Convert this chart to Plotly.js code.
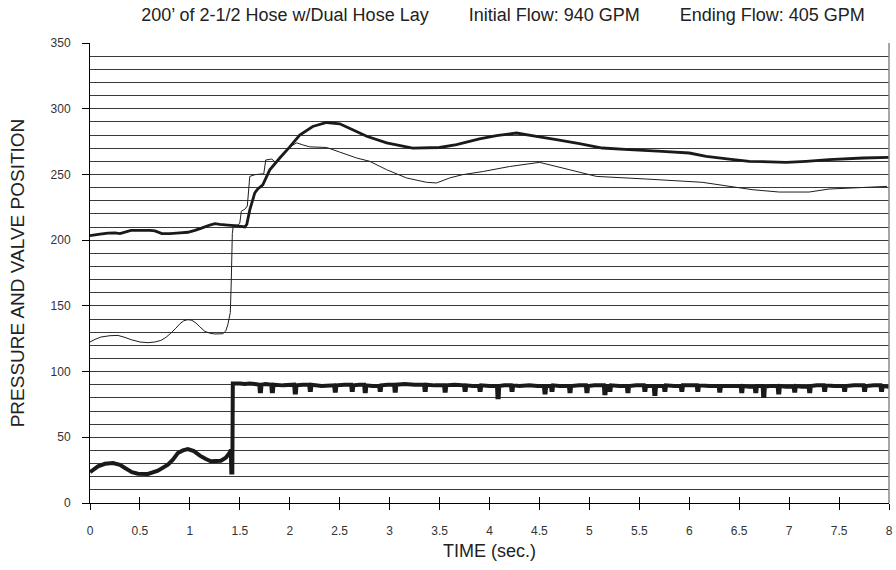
<!DOCTYPE html>
<html>
<head>
<meta charset="utf-8">
<script src="https://cdn.plot.ly/plotly-3.0.1.min.js"></script>
<style>html,body{margin:0;padding:0;background:#fff;}#chart{width:896px;height:570px;}</style>
</head>
<body>
<div id="chart"></div>
<script>
// Upper pressure (thick)
const timeUpper = [0,0.05,0.1,0.18,0.25,0.3,0.41,0.5,0.6,0.65,0.72,0.8,0.9,0.98,1.05,1.11,1.2,1.25,1.3,1.38,1.45,1.51,1.55,1.57,1.6,1.65,1.68,1.73,1.8,1.9,2.0,2.1,2.23,2.37,2.5,2.63,2.77,2.97,3.23,3.5,3.67,3.9,4.07,4.27,4.47,4.67,4.9,5.13,5.4,5.73,6.0,6.17,6.4,6.6,6.97,7.17,7.4,7.74,8.0];
const pressureUpper = [203.5,204,204.5,205.4,205.5,205,207.5,207.5,207.5,207,205,205,205.5,206,207.5,209,211.5,212.5,212,211.5,211,210.5,210,212,223,236,239,242,253.5,262.5,271,280,286.5,289.5,288.5,284,279,274,270,270.5,272.6,277,279.5,281.5,279,276.4,273.4,270.1,268.8,267.5,266.3,263.7,261.7,260,259.2,260,261.2,262.5,263];

// Second pressure (thin)
const timeThin = [0,0.05,0.11,0.2,0.28,0.35,0.41,0.5,0.58,0.65,0.71,0.76,0.81,0.86,0.9,0.94,0.98,1.02,1.06,1.1,1.15,1.2,1.25,1.33,1.36,1.38,1.405,1.415,1.425,1.435,1.48,1.5,1.515,1.55,1.575,1.6,1.65,1.74,1.76,1.82,1.86,1.9,2.0,2.07,2.13,2.2,2.37,2.5,2.67,2.8,2.97,3.17,3.37,3.47,3.6,3.73,3.94,4.2,4.5,4.8,5.07,5.57,6.13,6.63,6.9,7.2,7.4,7.98];
const pressureThin = [122.5,124.5,126.3,127.3,127.5,126,124.3,122.5,122,122.5,123.7,126,129.3,133,136.4,138.7,139.5,139,137,134,130.6,129.2,128.6,128.8,131,135.7,145,170,205,211,211.5,213,222,223.5,226,248.5,249.8,250.5,261,261.7,259,263,271,274,272.5,271,270.5,267,262.5,260,253.6,247.3,244,243.5,247.3,249.8,252.3,256,259.2,253.6,248.5,246.5,244,238.4,236.6,236.6,238.9,240.9];

// Valve position (thick)
const timeValve = [0,0.08,0.15,0.23,0.3,0.35,0.42,0.48,0.58,0.68,0.78,0.83,0.88,0.93,0.98,1.04,1.1,1.16,1.21,1.31,1.36,1.4,1.41,1.415,1.425,1.43,1.44,1.5,1.55,1.6,1.65,
  1.695,1.70,1.712,1.717,1.76,
  1.815,1.82,1.832,1.837,1.93,
  2.045,2.05,2.062,2.067,2.13,
  2.195,2.20,2.212,2.217,2.32,
  2.445,2.45,2.462,2.467,2.55,
  2.615,2.62,2.632,2.637,2.70,
  2.745,2.75,2.762,2.767,2.83,
  2.895,2.90,2.912,2.917,2.98,
  3.045,3.05,3.062,3.067,3.15,3.25,
  3.345,3.35,3.362,3.367,3.45,
  3.545,3.55,3.562,3.567,3.65,
  3.745,3.75,3.762,3.767,3.83,
  3.895,3.90,3.912,3.917,4.00,
  4.075,4.08,4.092,4.097,4.15,
  4.215,4.22,4.232,4.237,4.30,4.40,4.48,
  4.545,4.55,4.562,4.567,
  4.615,4.62,4.632,4.637,4.70,
  4.795,4.80,4.812,4.817,4.90,
  4.965,4.97,4.982,4.987,5.05,
  5.145,5.15,5.162,5.167,
  5.195,5.20,5.212,5.217,5.30,
  5.375,5.38,5.392,5.397,5.47,
  5.545,5.55,5.562,5.567,
  5.645,5.65,5.662,5.667,
  5.745,5.75,5.762,5.767,5.85,
  5.915,5.92,5.932,5.937,6.00,
  6.075,6.08,6.092,6.097,6.20,
  6.295,6.30,6.312,6.317,6.42,
  6.515,6.52,6.532,6.537,6.60,
  6.655,6.66,6.672,6.677,
  6.735,6.74,6.752,6.757,6.80,
  6.885,6.89,6.902,6.907,6.97,
  7.045,7.05,7.062,7.067,7.13,
  7.195,7.20,7.212,7.217,7.28,
  7.345,7.35,7.362,7.367,7.45,
  7.545,7.55,7.562,7.567,7.65,
  7.745,7.75,7.762,7.767,7.85,
  7.915,7.92,7.932,7.937,8.0];
const valvePosition = [23.5,27.9,29.8,30.4,29,26.6,23.5,22.3,22.1,24.6,29.1,33,38,40,41,39.5,36,33.5,31.7,32.2,34.5,38.5,40.5,23.3,23.3,91,91,91,90.5,91,90.5,
  90,85,85,90,90.5,
  90,85,85,90,89.5,
  90,84,84,89.5,90,
  90,86,86,90,89,
  89.5,85.5,85.5,89.5,90,
  90,86,86,89.5,90,
  90,85,85,89.5,89,
  89,86,86,89.5,90,
  90,85.5,85.5,90,90.5,90,
  90,86,86,90,89.5,
  89.5,85.5,85.5,89.5,90,
  89.5,86,86,89.5,89,
  89,86,86,89.5,89,
  89,80.5,80.5,89,89.5,
  89.5,86,86,89.5,89,89.5,89,
  89,84,84,89,
  89,86,86,89.5,89,
  89,85,85,89,89.5,
  89.5,85,85,89,89.5,
  89.5,83.5,83.5,89,
  89,86,86,89.5,89,
  89,85,85,89,89.5,
  89.5,86,86,89,
  89,83,83,89,
  89,86,86,89.5,89,
  89,86,86,89.5,89.5,
  89.5,86,86,89.5,89,
  89,85.5,85.5,89,89,
  89,85,85,89,88.5,
  88.5,85,85,89,
  89,81.5,81.5,88.5,89,
  89,84,84,89,88.5,
  88.5,85.5,85.5,89,88.5,
  88.5,85,85,89,89.5,
  89.5,86,86,89.5,89,
  89,86,86,89,89.5,
  89.5,86,86,89,89.5,
  89.5,86,86,89,88.5];

const yTicks = [0,50,100,150,200,250,300,350];
const xTicks = [0,0.5,1,1.5,2,2.5,3,3.5,4,4.5,5,5.5,6,6.5,7,7.5,8];
const xTickText = xTicks.map(String);

const titleText = "200\u2019 of 2-1/2 Hose w/Dual Hose Lay" + "\u00A0".repeat(8) +
  "Initial Flow: 940 GPM" + "\u00A0".repeat(8) + "Ending Flow: 405 GPM";

const FONT = "Liberation Sans, Arial, Helvetica, sans-serif";

const traces = [
  {x: timeThin, y: pressureThin, type: 'scatter', mode: 'lines', line: {color: '#1e1e1e', width: 1, simplify: false}, xaxis: 'x2', yaxis: 'y'},
  {x: timeUpper, y: pressureUpper, type: 'scatter', mode: 'lines', line: {color: '#1a1a1a', width: 2.8, simplify: false}, xaxis: 'x', yaxis: 'y'},
  {x: timeValve, y: valvePosition, type: 'scatter', mode: 'lines', line: {color: '#1a1a1a', width: 4, simplify: false}, xaxis: 'x', yaxis: 'y'}
];

const layout = {
  width: 896, height: 570,
  margin: {l: 90, r: 7, t: 43, b: 67, pad: 0},
  paper_bgcolor: '#fff', plot_bgcolor: '#fff',
  showlegend: false,
  font: {family: FONT, color: '#222'},
  title: {text: titleText, x: 503/896, xanchor: 'center', xref: 'container', y: 1 - 15/570, yanchor: 'middle', yref: 'container', font: {size: 18, color: '#222', family: FONT}},
  xaxis: {
    range: [0, 8], tickmode: 'array', tickvals: xTicks, ticktext: xTickText,
    ticks: 'outside', ticklen: 6, tickcolor: '#000', tickwidth: 1,
    showline: true, linecolor: '#000', linewidth: 1, showgrid: false, zeroline: false,
    tickfont: {size: 12, color: '#333'}, ticklabelstandoff: 11,
    title: {text: 'TIME (sec.)', font: {size: 18, color: '#222'}, standoff: 6}
  },
  xaxis2: {
    range: [0, 8], overlaying: 'x', anchor: 'y', side: 'bottom',
    tickmode: 'array', tickvals: xTicks, ticks: 'inside', ticklen: 6, tickcolor: '#000', tickwidth: 1,
    showticklabels: false, showgrid: false, zeroline: false, showline: false
  },
  yaxis: {
    range: [0, 350], tickmode: 'array', tickvals: yTicks,
    ticks: 'outside', ticklen: 7, tickcolor: '#000', tickwidth: 1,
    showline: true, linecolor: '#000', linewidth: 1,
    showgrid: true, gridcolor: '#3a3a3a', gridwidth: 1, zeroline: false,
    minor: {dtick: 10, tick0: 0, showgrid: true, gridcolor: '#3a3a3a', gridwidth: 1, ticks: ''},
    tickfont: {size: 12, color: '#333'}, ticklabelstandoff: 9,
    title: {text: 'PRESSURE AND VALVE POSITION', font: {size: 19, color: '#222'}, standoff: 20}
  },
  shapes: [
    {type: 'line', xref: 'paper', yref: 'paper', x0: 1, x1: 1, y0: 0, y1: 1, line: {color: '#888', width: 1.5}}
  ]
};

Plotly.newPlot('chart', traces, layout, {staticPlot: true, displayModeBar: false});
</script>
</body>
</html>
